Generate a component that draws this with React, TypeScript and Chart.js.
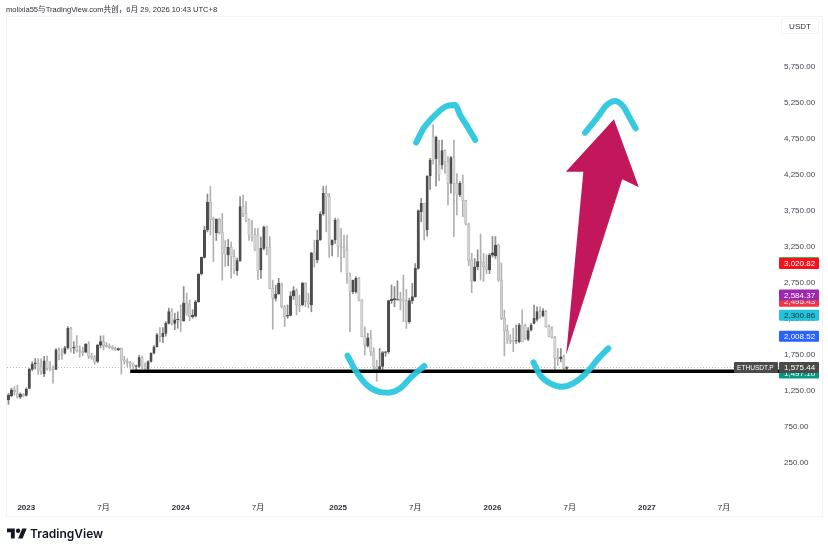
import React, { useEffect, useRef } from "react";
import { Chart, registerables } from "chart.js";

Chart.register(...registerables);

const FONT = "'Liberation Sans','Noto Sans CJK SC',sans-serif";

const opens = [1125,1180,1265,1215,1165,1200,1190,1287,1550,1625,1640,1590,1490,1670,1565,1570,1550,1820,1760,1775,1850,2120,1845,1870,1810,1800,1790,1905,1735,1725,1660,1885,1935,1880,1870,1855,1840,1825,1840,1680,1660,1645,1620,1590,1590,1715,1595,1555,1660,1775,1865,2035,2005,2050,2190,2350,2190,2240,2245,2225,2470,2450,2283,2290,2490,2875,3105,3486,3870,3645,3450,3634,3450,3250,3140,3245,3115,2920,3060,3810,3717,3625,3416,3425,3416,2930,3230,3530,3245,2675,2537,2597,2735,2420,2290,2300,2570,2643,2444,2444,2745,2490,2444,3170,3069,3347,3708,3995,3950,3277,3347,3625,3254,3245,3208,2850,2629,2630,2815,2513,2004,1875,1990,1795,1587,1555,1590,1785,1795,2504,2515,2510,2525,2510,2505,2213,2505,2560,2953,3740,3856,3486,4236,4782,4478,4390,4388,4588,4435,4134,4490,4134,3972,4140,3893,3569,3069,2782,2976,3046,3040,2976,2930,3138,3125,3277,2791,2259,2088,1958,1955,1945,1935,2166,2160,1967,2097,2190,2245,2352,2295,2352,2144,2110,1995,1715,1695,1727,1565];
const highs = [1217,1290,1310,1330,1225,1215,1295,1565,1655,1700,1700,1695,1730,1735,1660,1600,1840,1850,1840,1870,2145,2135,1935,2020,1880,1860,1910,1935,1775,1745,1900,2015,2020,1925,1905,1880,1860,1850,1850,1730,1700,1660,1640,1610,1745,1735,1640,1670,1780,1880,2050,2130,2130,2215,2400,2395,2330,2350,2445,2700,2610,2514,2380,2510,2880,3110,3540,3985,4090,3660,3640,3650,3715,3340,3355,3320,3210,3095,3950,3970,3880,3640,3620,3510,3510,3390,3540,3540,3395,2790,2720,2815,2750,2440,2445,2630,2700,2670,2580,2760,2755,2605,3175,3345,3485,3740,4090,4100,3995,3350,3650,3640,3510,3415,3415,2890,2790,2840,2830,2520,2140,2050,2090,1850,1680,1842,1800,1800,2510,2722,2700,2780,2620,2860,2660,2540,2745,3020,3765,3925,3860,4240,4480,4945,4790,4735,4735,4600,4505,4510,4735,4270,4160,4250,3900,3580,3160,3090,3210,3430,3160,3140,3160,3395,3395,3290,3030,2375,2165,2030,2120,2165,2190,2375,2180,2130,2190,2444,2420,2420,2395,2370,2170,2145,2010,1840,1840,1750,1590];
const lows = [1065,1170,1195,1150,1145,1170,1180,1280,1530,1555,1480,1480,1450,1540,1530,1360,1545,1680,1690,1760,1830,1790,1770,1790,1720,1740,1780,1700,1690,1620,1640,1850,1820,1855,1840,1820,1810,1810,1485,1625,1590,1565,1560,1540,1575,1560,1530,1530,1650,1765,1860,1935,1920,2010,2180,2165,2100,2120,2075,2215,2300,2227,2260,2275,2480,2860,3095,3460,3415,3045,3340,3430,2790,2980,2990,2815,2880,2860,3050,3670,3600,3340,3330,3200,2800,2815,3210,3140,2670,2106,2500,2590,2400,2145,2260,2290,2520,2305,2350,2430,2420,2400,2350,2970,3030,3340,3690,3460,3105,3125,3300,3115,2905,3100,2745,2073,2600,2610,2500,2000,1750,1860,1740,1520,1385,1510,1550,1730,1770,2465,2420,2520,2375,2213,2120,2190,2465,2550,2940,3600,3347,3400,4050,4400,4095,4170,4330,4270,3833,4000,3393,3695,3950,3670,3555,2990,2616,2770,2930,2790,2770,2880,2880,3110,3090,2770,2240,1736,1910,1905,1796,1910,1920,1930,1960,1950,2080,2180,2220,2260,2280,2135,2000,1985,1518,1605,1655,1518,1510];
const closes = [1194,1265,1240,1170,1205,1185,1275,1550,1625,1640,1530,1525,1670,1565,1545,1550,1820,1750,1745,1850,2120,1845,1860,1810,1800,1780,1900,1730,1720,1650,1885,1935,1880,1865,1855,1840,1825,1840,1680,1660,1645,1620,1590,1600,1715,1595,1560,1660,1775,1865,2030,2005,2050,2190,2352,2190,2240,2250,2225,2470,2330,2283,2300,2490,2875,3105,3486,3870,3634,3625,3634,3450,3152,3140,3245,3115,2930,3060,3810,3717,3625,3416,3380,3208,2920,3230,3530,3245,2675,2537,2597,2744,2420,2282,2300,2570,2643,2444,2430,2745,2490,2460,3170,3069,3347,3708,3995,3950,3277,3347,3625,3254,3245,3210,2884,2629,2790,2815,2513,2004,1890,1990,1795,1587,1555,1590,1782,1795,2504,2523,2535,2520,2500,2500,2213,2505,2560,2953,3754,3856,3486,4236,4458,4458,4773,4250,4588,4435,4134,4490,4134,3972,4134,3893,3569,3060,2782,2976,3046,3040,2976,2930,3138,3170,3277,2791,2259,2088,1958,1940,1935,1950,2166,1935,1980,2088,2166,2259,2352,2290,2365,2144,2004,1995,1703,1700,1725,1565,1575];

const tickIndexes = [6, 32, 58, 84, 111, 137, 163, 189, 215, 241];
const tickLabels = ["2023", "7月", "2024", "7月", "2025", "7月", "2026", "7月", "2027", "7月"];
const priceTicks = [250, 750, 1250, 1750, 2250, 2750, 3250, 3750, 4250, 4750, 5250, 5750];

const supportIndex = [41, 260.5];
const supportPrice = [1525, 1525];
const lastPriceIndex = [-0.5, 260.5];
const lastPriceLevel = [1575.44, 1575.44];

const capIndex = [137.3, 139.8, 143.7, 147.6, 150.4, 152.1, 154.9, 157.2];
const capPrice = [4699, 4898, 5083, 5208, 5222, 5083, 4898, 4736];
const bowlIndex = [114.2, 116.8, 120.7, 124.6, 128, 131.9, 135.8, 140];
const bowlPrice = [1740, 1541, 1333, 1240, 1226, 1287, 1449, 1597];
const bowl2Index = [176.8, 179, 182.4, 186.3, 190.2, 194.7, 198.7, 202];
const bowl2Price = [1648, 1472, 1356, 1310, 1356, 1504, 1703, 1842];
const cap2Index = [194.2, 198.1, 201.5, 204.3, 207.1, 209.3, 211.2];
const cap2Price = [4838, 5037, 5222, 5278, 5199, 5037, 4898];

const arrowIndex = [203.9, 212.3, 206.7, 187.8, 193.6, 187.7];
const arrowPrice = [5023, 4079, 4190, 1750, 4296, 4296];

const tagValues = [3035, 3020.82, 2495.43, 2584.37, 2300.86, 2008.52, 1500, 1575.44];
const tagTexts = ["", "3,020.82", "2,495.43", "2,584.37", "2,300.86", "2,008.52", "1,497.10", "1,575.44"];
const tagColors = ["#4caf50", "#f7121b", "#f23645", "#9c27b0", "#22c4dc", "#2962ff", "#089981", "#4a4a4a"];
const tagInk = ["#ffffff", "#ffffff", "#ffffff", "#ffffff", "#12343b", "#ffffff", "#ffffff", "#ffffff"];

const weeks = opens.map((_, i) => i);
const toPoints = (xs: number[], ys: number[]) => xs.map((x, i) => ({ x, y: ys[i] }));

const UP = "#4d4d4d";
const DOWN = "#d4d4d4";
const isUp = (i: number) => closes[i] > opens[i];

const overlays = {
  id: "overlays",
  afterDatasetsDraw(chart: any) {
    const { ctx, scales } = chart;
    const x = scales.x;
    const y = scales.y;
    ctx.save();
    ctx.beginPath();
    arrowIndex.forEach((v, i) => {
      const px = x.getPixelForValue(v);
      const py = y.getPixelForValue(arrowPrice[i]);
      if (i === 0) ctx.moveTo(px, py);
      else ctx.lineTo(px, py);
    });
    ctx.closePath();
    ctx.fillStyle = "#c2185b";
    ctx.fill();
    ctx.restore();
  },
  afterDraw(chart: any) {
    const { ctx, scales } = chart;
    const y = scales.y;
    ctx.save();
    ctx.font = `8px ${FONT}`;
    ctx.textBaseline = "middle";
    ctx.textAlign = "left";
    tagValues.forEach((v, i) => {
      const py = y.getPixelForValue(v);
      ctx.fillStyle = tagColors[i];
      ctx.beginPath();
      ctx.roundRect(779, py - 5.5, 40, 11, 1);
      ctx.fill();
      if (tagTexts[i]) {
        ctx.fillStyle = tagInk[i];
        ctx.fillText(tagTexts[i], 784, py + 0.5);
      }
    });
    const py = y.getPixelForValue(lastPriceLevel[0]);
    ctx.fillStyle = "#4a4a4a";
    ctx.beginPath();
    ctx.roundRect(734, py - 5.5, 44, 11, 1);
    ctx.fill();
    ctx.fillStyle = "#ffffff";
    ctx.font = `6.6px ${FONT}`;
    ctx.fillText("ETHUSDT.P", 737, py + 0.5);
    ctx.restore();
  },
};

export default function App() {
  const ref = useRef<HTMLCanvasElement | null>(null);

  useEffect(() => {
    if (!ref.current) return;
    const curve = (xs: number[], ys: number[], order: number) => ({
      type: "line" as const,
      data: toPoints(xs, ys),
      borderColor: "rgba(38,198,222,0.93)",
      borderWidth: 6,
      borderCapStyle: "round" as const,
      borderJoinStyle: "round" as const,
      cubicInterpolationMode: "monotone" as const,
      pointRadius: 0,
      fill: false,
      order,
    });
    const chart = new Chart(ref.current, {
      type: "bar",
      data: {
        datasets: [
          {
            type: "line",
            data: toPoints(lastPriceIndex, lastPriceLevel),
            borderColor: "#b8b8b8",
            borderWidth: 1,
            borderDash: [1, 2],
            pointRadius: 0,
            order: 5,
          },
          {
            data: weeks.map((i) => ({ x: i, y: [lows[i], highs[i]] })),
            backgroundColor: weeks.map((i) => (isUp(i) ? "#8c8c8c" : "#b0b0b0")),
            barThickness: 1,
            grouped: false,
            order: 4,
          },
          {
            data: weeks.map((i) => ({ x: i, y: [opens[i], closes[i]] })),
            backgroundColor: weeks.map((i) => (isUp(i) ? UP : DOWN)),
            borderColor: weeks.map((i) => (isUp(i) ? UP : "#adadad")),
            borderWidth: 0.6,
            borderSkipped: false,
            barThickness: 2.4,
            grouped: false,
            order: 3,
          },
          {
            type: "line",
            data: toPoints(supportIndex, supportPrice),
            borderColor: "#000000",
            borderWidth: 3.5,
            pointRadius: 0,
            order: 2,
          },
          curve(capIndex, capPrice, 1),
          curve(bowlIndex, bowlPrice, 1),
          curve(bowl2Index, bowl2Price, 1),
          curve(cap2Index, cap2Price, 1),
        ] as any,
      },
      options: {
        animation: false,
        responsive: false,
        events: [],
        layout: { padding: { left: 7, top: 16, right: 0, bottom: 0 } },
        plugins: { legend: { display: false }, tooltip: { enabled: false } },
        scales: {
          x: {
            type: "linear",
            min: -0.5,
            max: 260.5,
            offset: false,
            grid: { display: false, drawTicks: false, offset: false },
            border: { display: false },
            afterBuildTicks: (s: any) => {
              s.ticks = tickIndexes.map((value) => ({ value }));
            },
            afterFit: (s: any) => {
              s.height = 52;
            },
            ticks: {
              autoSkip: false,
              maxRotation: 0,
              padding: 3,
              color: "#2a2e39",
              font: (c: any) => ({
                family: FONT,
                size: 8,
                weight: /^\d{4}$/.test(String(c.tick?.label)) ? "bold" : "normal",
              }),
              callback: (v: any) => {
                const k = tickIndexes.indexOf(Number(v));
                return k >= 0 ? tickLabels[k] : "";
              },
            },
          },
          y: {
            type: "linear",
            position: "right",
            min: -264,
            max: 6458,
            grid: { display: false, drawTicks: false },
            border: { display: false },
            afterBuildTicks: (s: any) => {
              s.ticks = priceTicks.map((value) => ({ value }));
            },
            afterFit: (s: any) => {
              s.width = 46;
            },
            ticks: {
              padding: 2,
              color: "#3f434e",
              font: { family: FONT, size: 8 },
              callback: (v: any) =>
                Number(v).toLocaleString("en-US", { minimumFractionDigits: 2, maximumFractionDigits: 2 }),
            },
          },
        },
      } as any,
      plugins: [overlays],
    });
    return () => chart.destroy();
  }, []);

  return (
    <div style={{ position: "fixed", left: 0, top: 0, width: 828, height: 552, background: "#fff", overflow: "hidden", fontFamily: FONT }}>
      <div style={{ position: "absolute", left: 6, top: 16, width: 815, height: 499, border: "1px solid #f0f3fa" }} />
      <canvas ref={ref} width={828} height={552} style={{ position: "absolute", left: 0, top: 0, display: "block" }} />
      <div style={{ position: "absolute", left: 6, top: 5, fontSize: 7.6, lineHeight: "10px", color: "#2a2e39", whiteSpace: "nowrap" }}>
        molixia55与TradingView.com共创，6月 29, 2026 10:43 UTC+8
      </div>
      <div style={{ position: "absolute", left: 781, top: 18, width: 38, height: 16, border: "1px solid #f0f3fa", borderRadius: 3, fontSize: 8, lineHeight: "15px", textAlign: "center", color: "#2a2e39", boxSizing: "border-box" }}>
        USDT
      </div>
      <svg width="20" height="16" viewBox="0 0 36 28" style={{ position: "absolute", left: 7, top: 526 }}>
        <path d="M14 22H7V11H0V4h14v18zM28 22h-8l7.5-18h8L28 22z" fill="#131722" />
        <circle cx="20" cy="8" r="4" fill="#131722" />
      </svg>
      <div style={{ position: "absolute", left: 30, top: 525, fontSize: 12, lineHeight: "17px", fontFamily: "Inter, sans-serif", fontWeight: 600, color: "#131722", whiteSpace: "nowrap" }}>
        TradingView
      </div>
    </div>
  );
}
